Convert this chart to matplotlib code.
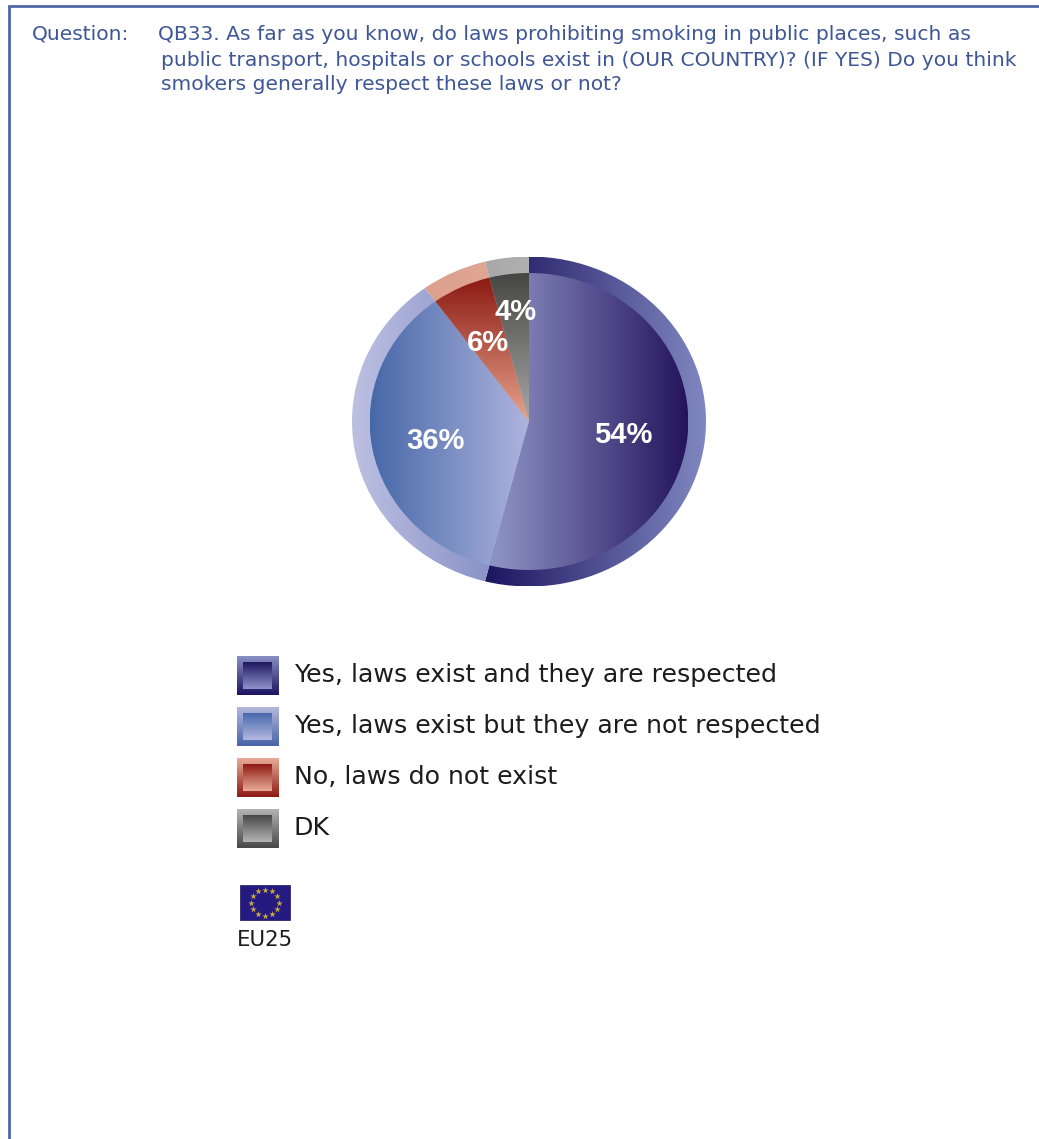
import numpy as np
import matplotlib
matplotlib.use("Agg")
import matplotlib.pyplot as plt
from matplotlib.colors import LinearSegmentedColormap
from matplotlib.patches import Rectangle

W, H = 1039, 1139

categories = ["Yes, laws exist and they are respected",
              "Yes, laws exist but they are not respected",
              "No, laws do not exist",
              "DK"]
values = [54, 36, 6, 4]

question_label = "Question:"
question_lines = ["QB33. As far as you know, do laws prohibiting smoking in public places, such as",
                  "public transport, hospitals or schools exist in (OUR COUNTRY)? (IF YES) Do you think",
                  "smokers generally respect these laws or not?"]
flag_label = "EU25"

# (start colour, end colour, direction) for ring and body of each slice
ring_styles = [("#1c1560", "#8088c0", "h"),
               ("#bcc0e2", "#7c86bf", "h"),
               ("#dda08c", "#e0aa98", "h"),
               ("#a8a8a8", "#b0b0b0", "h")]
body_styles = [("#9096c8", "#24145c", "h"),
               ("#4668a8", "#b0b4de", "h"),
               ("#8c1a12", "#e6a48c", "v"),
               ("#454543", "#a8a8a8", "v")]
# legend swatches: frame top/bottom, centre top/bottom
swatch_styles = [("#8a90c6", "#1c1460", "#1e1660", "#8e94ca"),
                 ("#b4b8de", "#4664a8", "#4668ac", "#b4b8e0"),
                 ("#e8ac98", "#8e1a14", "#8e1a14", "#e8ac98"),
                 ("#b4b4b4", "#484848", "#484848", "#b4b4b4")]
label_pos = [(623, 435), (435, 441), (488, 343), (516, 312)]
TEXT_BLUE = "#3f5796"


def gradient(ax, c0, c1, direction, extent, clip=None):
    # draw a two colour ramp into extent, optionally clipped to a patch
    cmap = LinearSegmentedColormap.from_list("ramp", [c0, c1])
    ramp = np.linspace(0, 1, 256)
    ramp = ramp[None, :] if direction == "h" else ramp[:, None]
    im = ax.imshow(ramp, cmap=cmap, extent=extent, aspect="auto",
                   origin="upper", interpolation="bilinear", vmin=0, vmax=1)
    if clip is not None:
        im.set_clip_path(clip)
    return im


def shaded_pie(ax, radius, styles, zorder):
    wedges, _ = ax.pie(values, radius=radius, startangle=90, counterclock=False,
                       wedgeprops=dict(facecolor="none", edgecolor="none"))
    for wedge, (c0, c1, direction) in zip(wedges, styles):
        box = wedge.get_path().transformed(wedge.get_patch_transform()).get_extents()
        im = gradient(ax, c0, c1, direction, (box.x0, box.x1, box.y0, box.y1), wedge)
        im.set_zorder(zorder)


fig = plt.figure(figsize=(W / 100, H / 100), dpi=100, facecolor="white")

# pie is stretched slightly wider than tall
cx, cy, rx, ry = 529, 421.5, 177, 165
ax_pie = fig.add_axes([(cx - rx) / W, 1 - (cy + ry) / H, 2 * rx / W, 2 * ry / H], zorder=1)
shaded_pie(ax_pie, 1.0, ring_styles, 1)
shaded_pie(ax_pie, 0.9, body_styles, 2)
ax_pie.set_aspect("auto")
ax_pie.set_xlim(-1, 1)
ax_pie.set_ylim(-1, 1)
ax_pie.axis("off")

# everything else is placed in pixel coordinates
ax = fig.add_axes([0, 0, 1, 1], zorder=2)
ax.set_xlim(0, W)
ax.set_ylim(H, 0)
ax.axis("off")

# page border, top and left only
ax.plot([8.5, 8.5, W], [H, 5.5, 5.5], color="#5068aa", lw=2, solid_joinstyle="miter")

ax.text(32, 34, question_label, color=TEXT_BLUE, fontsize=14.6, va="center")
ax.text(158, 34, question_lines[0], color=TEXT_BLUE, fontsize=14.6, va="center")
ax.text(161, 60, question_lines[1], color=TEXT_BLUE, fontsize=14.6, va="center")
ax.text(161, 85, question_lines[2], color=TEXT_BLUE, fontsize=14.6, va="center")

for value, (x, y) in zip(values, label_pos):
    ax.text(x, y, f"{value}%", color="white", fontsize=21, fontweight="bold",
            family="Liberation Sans", ha="center", va="center")

# legend swatches and labels
top = 656
for i, (name, style) in enumerate(zip(categories, swatch_styles)):
    y0 = top + i * 51
    gradient(ax, style[0], style[1], "v", (237, 279, y0 + 39, y0))
    gradient(ax, style[2], style[3], "v", (243, 272, y0 + 33, y0 + 6))
    ax.text(294, y0 + 19, name, color="#1c1c1c", fontsize=18.15, va="center")

# flag
ax.add_patch(Rectangle((240, 885), 50, 35, facecolor="#241a80", edgecolor="#1c1560", lw=0.5))
ang = np.arange(12) * np.pi / 6
ax.scatter(265 + 14 * np.cos(ang), 902.5 + 13 * np.sin(ang), marker="*", s=24,
           color="#c8a848", linewidths=0)
ax.text(237, 940, flag_label, color="#1c1c1c", fontsize=15.3, va="center")

# imshow on the pixel axes can reset the limits
ax.set_xlim(0, W)
ax.set_ylim(H, 0)

fig.savefig("out.png", dpi=100, facecolor="white")
